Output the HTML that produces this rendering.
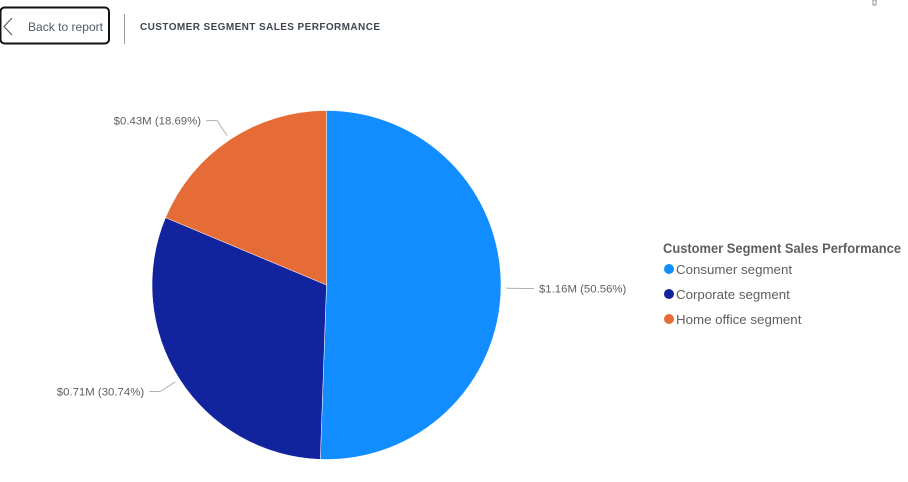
<!DOCTYPE html>
<html lang="en">
<head>
<meta charset="utf-8">
<title>Customer Segment Sales Performance</title>
<style>
  html, body { margin: 0; padding: 0; background: #ffffff; }
  body { width: 908px; height: 482px; overflow: hidden; }
  svg { display: block; font-family: "Liberation Sans", Arial, sans-serif; }
</style>
</head>
<body>
<svg id="chart" width="908" height="482" viewBox="0 0 908 482" xmlns="http://www.w3.org/2000/svg">
  <g>
    <rect x="0.5" y="7.5" width="108.5" height="36" rx="4" fill="#ffffff" stroke="#111111" stroke-width="2"/>
    <path d="M12 18 L4 26.5 L12 35" fill="none" stroke="#605e5c" stroke-width="1.2"/>
    <text x="28" y="31" font-size="12" fill="#4f5b66" textLength="75" lengthAdjust="spacingAndGlyphs">Back to report</text>
  </g>
  <line x1="124.5" y1="14" x2="124.5" y2="44" stroke="#9a9a9a" stroke-width="1"/>
  <text x="140" y="30" font-size="10" font-weight="bold" fill="#3f4650" textLength="240" lengthAdjust="spacing">CUSTOMER SEGMENT SALES PERFORMANCE</text>
  <rect x="873" y="0" width="3" height="5" fill="none" stroke="#777777" stroke-width="0.8"/>
  <g id="pie"></g>
  <text x="663" y="253" font-size="13.5" font-weight="bold" fill="#605e5c" textLength="238" lengthAdjust="spacingAndGlyphs">Customer Segment Sales Performance</text>
  <g id="legend"></g>
</svg>
<script>
const categories = ["Consumer segment", "Corporate segment", "Home office segment"];
const percentValues = [50.56, 30.74, 18.69];
const salesLabels = ["$1.16M", "$0.71M", "$0.43M"];
const colors = ["#118dff", "#12239e", "#e66c37"];

const SVG_NS = "http://www.w3.org/2000/svg";
const cx = 326.5, cy = 285, radius = 174.5;
const pieGroup = document.getElementById("pie");
const legendGroup = document.getElementById("legend");
const total = percentValues.reduce((a, b) => a + b, 0);

function angleScale(v) { return v / total * Math.PI * 2; }
function polar(r, a) { return [cx + r * Math.sin(a), cy - r * Math.cos(a)]; }

let cumulative = 0;
percentValues.forEach((value, i) => {
  const a0 = angleScale(cumulative);
  const a1 = angleScale(cumulative + value);
  const mid = (a0 + a1) / 2;
  cumulative += value;

  const p0 = polar(radius, a0);
  const p1 = polar(radius, a1);
  const large = a1 - a0 > Math.PI ? 1 : 0;
  const slice = document.createElementNS(SVG_NS, "path");
  slice.setAttribute("d", `M${cx} ${cy} L${p0[0]} ${p0[1]} A${radius} ${radius} 0 ${large} 1 ${p1[0]} ${p1[1]} Z`);
  slice.setAttribute("fill", colors[i]);
  slice.setAttribute("stroke", "#ffffff");
  slice.setAttribute("stroke-width", "0.5");
  
  
  pieGroup.appendChild(slice);

  const l0 = polar(radius + 5, mid);
  const l1 = polar(radius + 23, mid);
  const right = Math.sin(mid) >= 0;
  const lx = l1[0] + (right ? 10 : -11);
  const leader = document.createElementNS(SVG_NS, "polyline");
  leader.setAttribute("points", `${l0[0]},${l0[1]} ${l1[0]},${l1[1]} ${lx},${l1[1]}`);
  leader.setAttribute("fill", "none");
  leader.setAttribute("stroke", "#b3b0ad");
  leader.setAttribute("stroke-width", "1");
  
  
  pieGroup.appendChild(leader);

  const label = document.createElementNS(SVG_NS, "text");
  label.setAttribute("x", lx + (right ? 5 : -5));
  label.setAttribute("y", l1[1] + 4);
  label.setAttribute("font-size", "11.4");
  label.setAttribute("fill", "#605e5c");
  label.setAttribute("text-anchor", right ? "start" : "end");
  label.textContent = `${salesLabels[i]} (${value.toFixed(2)}%)`;
  
  
  pieGroup.appendChild(label);

  const rowY = 269 + i * 25;
  const dot = document.createElementNS(SVG_NS, "circle");
  dot.setAttribute("cx", 669);
  dot.setAttribute("cy", rowY);
  dot.setAttribute("r", 5);
  dot.setAttribute("fill", colors[i]);
  
  
  legendGroup.appendChild(dot);

  const entry = document.createElementNS(SVG_NS, "text");
  entry.setAttribute("x", 676);
  entry.setAttribute("y", rowY + 5);
  entry.setAttribute("font-size", "13.3");
  entry.setAttribute("fill", "#605e5c");
  entry.textContent = categories[i];
  
  
  legendGroup.appendChild(entry);
});
</script>
</body>
</html>
